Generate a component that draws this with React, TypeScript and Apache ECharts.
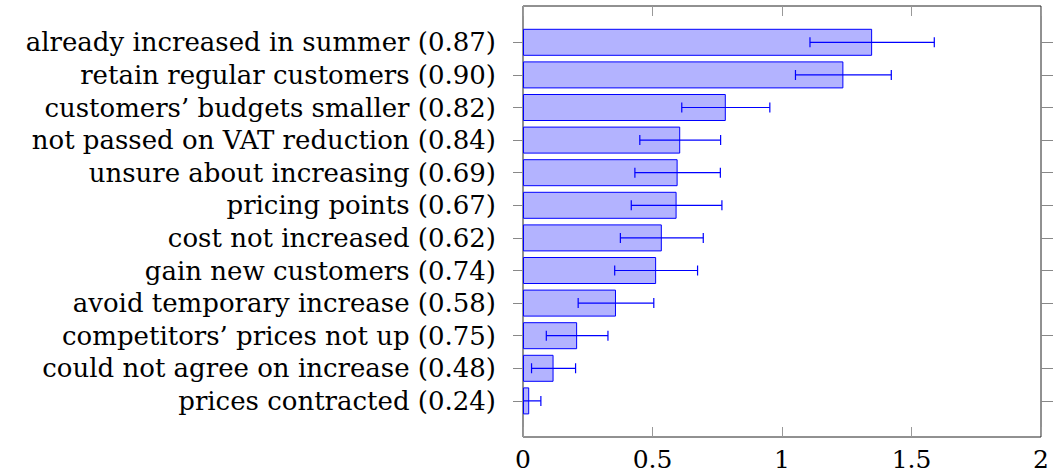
import React, { useEffect, useRef } from "react";
import * as echarts from "echarts";

const categories = [
  "already increased in summer (0.87)",
  "retain regular customers (0.90)",
  "customers’ budgets smaller (0.82)",
  "not passed on VAT reduction (0.84)",
  "unsure about increasing (0.69)",
  "pricing points (0.67)",
  "cost not increased (0.62)",
  "gain new customers (0.74)",
  "avoid temporary increase (0.58)",
  "competitors’ prices not up (0.75)",
  "could not agree on increase (0.48)",
  "prices contracted (0.24)",
];
const means = [1.348, 1.237, 0.783, 0.607, 0.597, 0.593, 0.536, 0.514, 0.359, 0.209, 0.118, 0.024];
const errors = [0.24, 0.185, 0.17, 0.156, 0.165, 0.175, 0.16, 0.16, 0.146, 0.119, 0.085, 0.045];
const xTicks = [0, 0.5, 1, 1.5, 2];

const FONT = "'DejaVu Serif', serif";

export default function App() {
  const ref = useRef<HTMLDivElement>(null);
  useEffect(() => {
    if (!ref.current) return;
    const chart = echarts.init(ref.current, undefined, { renderer: "svg" });
    const errData = means.map((m, i) => [m - errors[i], m + errors[i], i]);
    const L = 523, R = 1053 - 1041, T = 6, B = 474 - 437;
    const innerTop = 26, innerH = 12 * 32.6;
    chart.setOption({
      animation: false,
      grid: [
        { left: L, right: R, top: T, bottom: B, show: true, borderColor: "#222", borderWidth: 1, backgroundColor: "transparent" },
        { left: L, right: R, top: innerTop, height: innerH },
      ],
      xAxis: [
        {
          gridIndex: 0, type: "value", min: xTicks[0], max: xTicks[xTicks.length - 1], interval: 0.5,
          position: "bottom",
          axisLine: { show: false },
          axisTick: { show: true, inside: true, length: 10, lineStyle: { color: "#999" } },
          splitLine: { show: false },
          axisLabel: { fontFamily: FONT, fontSize: 25, color: "#000", margin: 10 },
        },
        {
          gridIndex: 0, type: "value", min: 0, max: 2, interval: 0.5, position: "top",
          axisLine: { show: false },
          axisTick: { show: true, inside: true, length: 10, lineStyle: { color: "#999" } },
          splitLine: { show: false },
          axisLabel: { show: false },
        },
        { gridIndex: 1, type: "value", min: 0, max: 2, show: false },
      ],
      yAxis: [
        { gridIndex: 0, type: "value", show: false, min: 0, max: 1 },
        {
          gridIndex: 1, type: "category", data: categories, inverse: true,
          axisLine: { show: false },
          axisTick: { show: true, alignWithLabel: true, interval: 0, length: 10, lineStyle: { color: "#888" } },
          axisLabel: { fontFamily: FONT, fontSize: 26, color: "#000", margin: 27, interval: 0 },
          splitLine: { show: false },
        },
        {
          gridIndex: 1, type: "category", data: categories, inverse: true, position: "right",
          axisLine: { show: false },
          axisTick: { show: true, alignWithLabel: true, interval: 0, length: 12, lineStyle: { color: "#888" } },
          axisLabel: { show: false },
          splitLine: { show: false },
        },
      ],
      series: [
        {
          type: "bar", xAxisIndex: 2, yAxisIndex: 1, data: means, barWidth: 27,
          itemStyle: { color: "#b3b3ff", borderColor: "#0000ff", borderWidth: 1 },
          z: 2,
        },
        {
          type: "custom", xAxisIndex: 2, yAxisIndex: 1, data: errData, clip: true, z: 3,
          renderItem: (params: any, api: any) => {
            const lo = api.coord([api.value(0), api.value(2)]);
            const hi = api.coord([api.value(1), api.value(2)]);
            const y = lo[1];
            const h = 5;
            const style = { stroke: "#0000ff", lineWidth: 1.2 };
            return {
              type: "group",
              children: [
                { type: "line", shape: { x1: lo[0], y1: y, x2: hi[0], y2: y }, style },
                { type: "line", shape: { x1: lo[0], y1: y - h, x2: lo[0], y2: y + h }, style },
                { type: "line", shape: { x1: hi[0], y1: y - h, x2: hi[0], y2: y + h }, style },
              ],
            };
          },
        },
      ],
    });
    return () => chart.dispose();
  }, []);
  return <div ref={ref} style={{ position: "absolute", left: 0, top: 0, width: 1053, height: 474 }} />;
}
